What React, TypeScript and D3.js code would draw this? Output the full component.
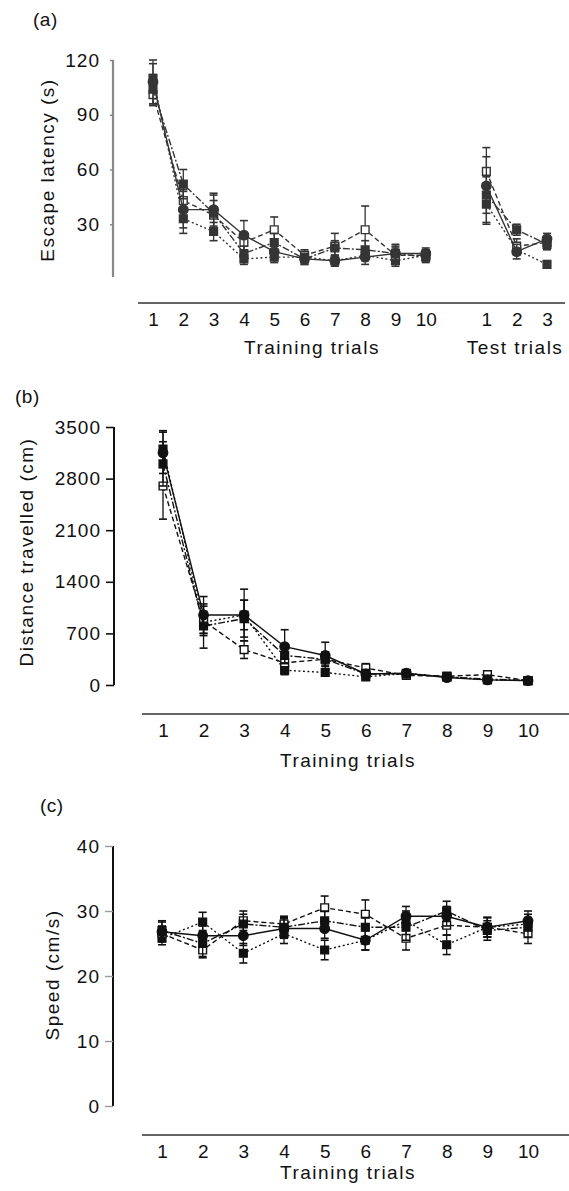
import React, { useEffect, useRef } from "react";
import * as d3 from "d3";

// trial labels
const trainingTrials = [1, 2, 3, 4, 5, 6, 7, 8, 9, 10];
const testTrials = [1, 2, 3];

// (a) escape latency (s): training trials then test trials
const latencyFilledSq = [110, 33, 26, 11, 12, 12, 10, 13, 10, 13];
const latencyOpenSq = [101, 43, 35, 20, 27, 13, 18, 27, 13, 13];
const latencyCircle = [108, 38, 38, 24, 15, 11, 10, 12, 14, 14];
const latencyOther = [104, 52, 36, 14, 20, 11, 17, 16, 14, 12];
const latencyTestFilledSq = [41, 16, 8];
const latencyTestOpenSq = [59, 18, 20];
const latencyTestCircle = [51, 15, 22];
const latencyTestOther = [46, 27, 19];
const latencyErrFilledSq = [8, 8, 5, 3, 3, 3, 3, 3, 3, 3];
const latencyErrOpenSq = [6, 6, 8, 5, 7, 3, 7, 13, 4, 3];
const latencyErrCircle = [12, 10, 9, 8, 4, 3, 3, 4, 5, 3];
const latencyErrOther = [8, 8, 10, 4, 5, 3, 4, 5, 4, 3];
const latencyTestErrFilledSq = [10, 3, 2];
const latencyTestErrOpenSq = [8, 4, 3];
const latencyTestErrCircle = [21, 4, 3];
const latencyTestErrOther = [10, 3, 3];
const latencyTicks = [30, 60, 90, 120];

// (b) distance travelled (cm)
const distFilledSq = [3200, 850, 950, 200, 170, 110, 160, 110, 70, 60];
const distOpenSq = [2700, 870, 480, 300, 350, 230, 130, 120, 140, 60];
const distCircle = [3150, 950, 950, 520, 400, 150, 160, 100, 70, 60];
const distOther = [3000, 800, 900, 400, 350, 150, 150, 110, 80, 60];
const distErrFilledSq = [250, 150, 200, 60, 50, 40, 30, 30, 20, 20];
const distErrOpenSq = [450, 200, 120, 80, 80, 60, 40, 30, 30, 20];
const distErrCircle = [280, 250, 350, 230, 180, 60, 40, 30, 20, 20];
const distErrOther = [300, 300, 250, 100, 100, 50, 40, 30, 20, 20];
const distTicks = [0, 700, 1400, 2100, 2800, 3500];

// (c) speed (cm/s)
const speedFilledSq = [25.8, 28.3, 23.5, 26.5, 24, 25.5, 28.5, 24.8, 27.5, 28];
const speedOpenSq = [26.5, 24, 28.5, 28, 30.5, 29.5, 25.8, 27.8, 27.5, 26.5];
const speedCircle = [26.8, 26.2, 26.2, 27.3, 27.3, 25.5, 29.2, 29.2, 27.5, 28.5];
const speedOther = [27, 25, 28, 27.5, 28.5, 27.5, 27.5, 30, 27, 27.5];
const speedErrFilledSq = [1, 1.5, 1.5, 1.5, 1.5, 1.5, 1.5, 1.5, 1.5, 1.5];
const speedErrOpenSq = [1.2, 1.2, 1.5, 1.2, 1.8, 2.2, 1.8, 1.5, 1.5, 1.5];
const speedErrCircle = [1.5, 1.5, 1.5, 1.5, 1.5, 1.5, 1.5, 1.5, 1.5, 1.5];
const speedErrOther = [1.5, 2, 1.5, 1.5, 1.5, 1.5, 2, 1.5, 1.5, 1.5];
const speedTicks = [0, 10, 20, 30, 40];

const FONT = "'Liberation Sans', Arial, sans-serif";
const INK = "#111";

// marker + line style per group (same order in every panel)
const groupStyles = [
  { symbol: d3.symbolSquare, fill: INK, dash: "2,2.5" },
  { symbol: d3.symbolSquare, fill: "#fff", dash: "5,3" },
  { symbol: d3.symbolCircle, fill: INK, dash: null },
  { symbol: d3.symbolSquare, fill: INK, dash: "7,2,2,2" },
];

type Sel = d3.Selection<SVGGElement, unknown, null, undefined>;

function drawGroup(g: Sel, xs: number[], vals: number[], errs: number[], y: d3.ScaleLinear<number, number>, style: any) {
  const pts = vals.map((v, i) => [xs[i], y(v)] as [number, number]);
  g.append("path")
    .attr("d", d3.line()(pts))
    .attr("fill", "none")
    .attr("stroke", INK)
    .attr("stroke-width", 1.4)
    .attr("stroke-dasharray", style.dash);

  // error bars
  vals.forEach((v, i) => {
    const x = xs[i];
    const top = y(v + errs[i]);
    const bot = y(v - errs[i]);
    g.append("line").attr("x1", x).attr("x2", x).attr("y1", top).attr("y2", bot)
      .attr("stroke", INK).attr("stroke-width", 1.3);
    [top, bot].forEach((yy) => {
      g.append("line").attr("x1", x - 4).attr("x2", x + 4).attr("y1", yy).attr("y2", yy)
        .attr("stroke", INK).attr("stroke-width", 1.6);
    });
  });

  g.selectAll(null)
    .data(pts)
    .enter()
    .append("path")
    .attr("d", d3.symbol().type(style.symbol).size(style.symbol === d3.symbolCircle ? 70 : 60)())
    .attr("transform", (d) => `translate(${d[0]},${d[1]})`)
    .attr("fill", style.fill)
    .attr("stroke", INK)
    .attr("stroke-width", 1.4);
}

function label(svg: any, text: string, x: number, y: number, opts: any = {}) {
  const t = svg.append("text")
    .attr("x", x)
    .attr("y", y)
    .attr("font-family", FONT)
    .attr("font-size", opts.size || 19)
    .attr("fill", INK)
    .attr("text-anchor", opts.anchor || "middle")
    .style("letter-spacing", (opts.spacing ?? 1.5) + "px")
    .text(text);
  if (opts.rotate) t.attr("transform", `rotate(-90, ${x}, ${y})`);
  return t;
}

function yAxis(svg: any, y: d3.ScaleLinear<number, number>, ticks: number[], x: number, tickLen: number, color: string, width: number) {
  const ax = svg.append("g")
    .attr("transform", `translate(${x},0)`)
    .call(
      d3.axisLeft(y)
        .tickValues(ticks)
        .tickSize(tickLen)
        .tickSizeOuter(0)
        .tickPadding(13 - tickLen)
        .tickFormat(d3.format("d"))
    );
  ax.select(".domain").remove();
  ax.selectAll(".tick line").attr("stroke", color).attr("stroke-width", width);
  ax.selectAll(".tick text")
    .attr("font-family", FONT)
    .attr("font-size", 19)
    .attr("fill", INK)
    .style("letter-spacing", "1px");
  return ax;
}

function xTicks(svg: any, x: d3.ScaleLinear<number, number>, values: number[], labels: number[], yPos: number) {
  const ax = svg.append("g")
    .attr("transform", `translate(0,${yPos})`)
    .call(
      d3.axisBottom(x)
        .tickValues(values)
        .tickSize(0)
        .tickPadding(8)
        .tickFormat((d, i) => String(labels[i]))
    );
  ax.select(".domain").remove();
  ax.selectAll(".tick text")
    .attr("font-family", FONT)
    .attr("font-size", 19)
    .attr("fill", INK);
}

const App = () => {
  const ref = useRef<SVGSVGElement | null>(null);

  useEffect(() => {
    document.body.style.margin = "0";
    const svg = d3.select(ref.current);
    svg.selectAll("*").remove();

    // ---------- panel (a) ----------
    const xa = d3.scaleLinear().domain([0, 13]).range([153, 547]);
    const ya = d3.scaleLinear().domain([0, 120]).range([279, 60]);
    const trainX = trainingTrials.map((t) => xa(t - 1));
    const testX = testTrials.map((t) => xa(t + 10));

    label(svg, "(a)", 33, 26, { anchor: "start", spacing: 0.5 });
    svg.append("line").attr("x1", 113).attr("x2", 113).attr("y1", ya(120)).attr("y2", 277)
      .attr("stroke", "#888").attr("stroke-width", 2.2);
    yAxis(svg, ya, latencyTicks, 113, 3, "#888", 1.5);
    label(svg, "Escape latency (s)", 54, 170, { rotate: true });
    svg.append("line").attr("x1", 138).attr("x2", 565).attr("y1", 303).attr("y2", 303)
      .attr("stroke", "#666").attr("stroke-width", 2);
    xTicks(svg, xa, trainingTrials.map((t) => t - 1), trainingTrials, 305);
    xTicks(svg, xa, testTrials.map((t) => t + 10), testTrials, 305);
    label(svg, "Training trials", 312, 354);
    label(svg, "Test trials", 515, 354);

    const ga = svg.append("g").attr("opacity", 0.85);
    const aTrain = [latencyFilledSq, latencyOpenSq, latencyCircle, latencyOther];
    const aTrainErr = [latencyErrFilledSq, latencyErrOpenSq, latencyErrCircle, latencyErrOther];
    const aTest = [latencyTestFilledSq, latencyTestOpenSq, latencyTestCircle, latencyTestOther];
    const aTestErr = [latencyTestErrFilledSq, latencyTestErrOpenSq, latencyTestErrCircle, latencyTestErrOther];
    aTrain.forEach((vals, k) => drawGroup(ga as any, trainX, vals, aTrainErr[k], ya, groupStyles[k]));
    aTest.forEach((vals, k) => drawGroup(ga as any, testX, vals, aTestErr[k], ya, groupStyles[k]));

    // ---------- panel (b) ----------
    const xb = d3.scaleLinear().domain([1, 10]).range([163, 528]);
    const yb = d3.scaleLinear().domain([0, 3500]).range([685, 427]);
    label(svg, "(b)", 15, 403, { anchor: "start", spacing: 0.5 });
    svg.append("line").attr("x1", 114).attr("x2", 114).attr("y1", yb(3500)).attr("y2", yb(0))
      .attr("stroke", INK).attr("stroke-width", 2);
    yAxis(svg, yb, distTicks, 114, 8, INK, 1.6);
    label(svg, "Distance travelled (cm)", 33, 552, { rotate: true });
    svg.append("line").attr("x1", 142).attr("x2", 569).attr("y1", 714).attr("y2", 714)
      .attr("stroke", "#666").attr("stroke-width", 2);
    xTicks(svg, xb, trainingTrials, trainingTrials, 716);
    label(svg, "Training trials", 348, 767);

    const gb = svg.append("g");
    const bVals = [distFilledSq, distOpenSq, distCircle, distOther];
    const bErr = [distErrFilledSq, distErrOpenSq, distErrCircle, distErrOther];
    bVals.forEach((vals, k) => drawGroup(gb as any, trainingTrials.map((t) => xb(t)), vals, bErr[k], yb, groupStyles[k]));

    // ---------- panel (c) ----------
    const xc = d3.scaleLinear().domain([1, 10]).range([162, 528]);
    const yc = d3.scaleLinear().domain([0, 40]).range([1106, 846]);
    label(svg, "(c)", 40, 812, { anchor: "start", spacing: 0.5 });
    svg.append("line").attr("x1", 113).attr("x2", 113).attr("y1", yc(40)).attr("y2", yc(0))
      .attr("stroke", INK).attr("stroke-width", 2);
    yAxis(svg, yc, speedTicks, 113, 8, "#999", 1.4);
    label(svg, "Speed (cm/s)", 59, 975, { rotate: true });
    svg.append("line").attr("x1", 142).attr("x2", 569).attr("y1", 1135).attr("y2", 1135)
      .attr("stroke", "#666").attr("stroke-width", 2);
    xTicks(svg, xc, trainingTrials, trainingTrials, 1137);
    label(svg, "Training trials", 348, 1179);

    const gc = svg.append("g");
    const cVals = [speedFilledSq, speedOpenSq, speedCircle, speedOther];
    const cErr = [speedErrFilledSq, speedErrOpenSq, speedErrCircle, speedErrOther];
    cVals.forEach((vals, k) => drawGroup(gc as any, trainingTrials.map((t) => xc(t)), vals, cErr[k], yc, groupStyles[k]));
  }, []);

  return (
    <svg ref={ref} width={569} height={1191} style={{ display: "block", background: "#fff" }} />
  );
};

export default App;
